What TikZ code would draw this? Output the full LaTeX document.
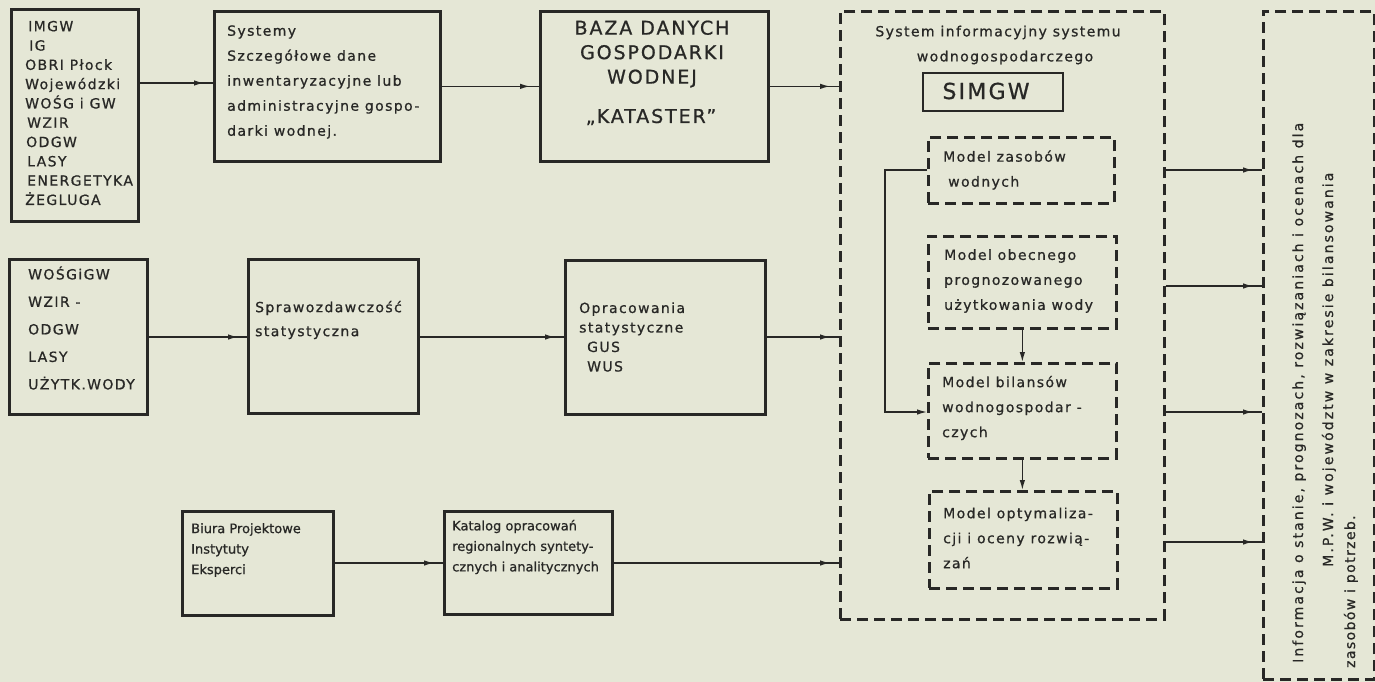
\documentclass[tikz,border=0pt]{standalone}
\usepackage{fontspec}
\newfontfamily\lsf[LetterSpace=10,FakeBold=0.8]{DejaVu Sans}
\newfontfamily\lsfw[LetterSpace=15,FakeBold=0.8]{DejaVu Sans}
\newfontfamily\psf[FakeBold=0.8]{DejaVu Sans}
\usetikzlibrary{arrows.meta,decorations.markings}
\definecolor{bg}{RGB}{229,231,214}
\definecolor{ink}{RGB}{40,40,38}
\begin{document}
\begin{tikzpicture}[x=1pt,y=-1pt,
  box/.style={draw=ink, line width=2.7pt, anchor=north west, inner sep=0pt},
  dbox/.style={draw=ink, line width=2.7pt, dash pattern=on 11pt off 6pt, anchor=north west, inner sep=0pt},
  t/.style={font=\lsf\fontsize{14}{25}\selectfont, align=left, inner sep=0pt, anchor=west, text=ink},
  tb/.style={font=\psf\fontsize{13}{20.5}\selectfont, align=left, inner sep=0pt, anchor=west, text=ink},
  conn/.style={draw=ink, line width=1.3pt, postaction={decorate},
    decoration={markings, mark=at position -9pt with {\arrow{Latex[length=10pt,width=5.5pt]}}}},
  tip/.style={draw=ink, line width=1.3pt, -{Latex[length=10pt,width=5.5pt]}}
]
\fill[bg] (0,0) rectangle (1375,682);
\useasboundingbox (0,0) rectangle (1375,682);

% boxes
\node[box, minimum width=127pt, minimum height=212pt] (A) at (10,8) {};
\node[box, minimum width=226pt, minimum height=150pt] (B) at (213,10) {};
\node[box, minimum width=228pt, minimum height=150pt] (C) at (539,10) {};
\node[dbox, minimum width=324pt, minimum height=608pt] (big) at (839,10) {};
\node[box, line width=2.3pt, minimum width=140pt, minimum height=38pt] (S) at (922,72) {};
\node[dbox, minimum width=186pt, minimum height=66pt] (M1) at (927,136) {};
\node[dbox, minimum width=188pt, minimum height=92pt] (M2) at (927,235) {};
\node[dbox, minimum width=188pt, minimum height=95pt] (M3) at (927,362) {};
\node[dbox, minimum width=188pt, minimum height=97pt] (M4) at (928,490) {};
\node[dbox, minimum width=111pt, minimum height=668pt] (R) at (1262,10) {};
\node[box, minimum width=138pt, minimum height=155pt] (D) at (8,258) {};
\node[box, minimum width=170pt, minimum height=154pt] (E) at (247,258) {};
\node[box, minimum width=200pt, minimum height=154pt] (F) at (564,259) {};
\node[box, minimum width=151pt, minimum height=104pt] (G) at (181,510) {};
\node[box, minimum width=168pt, minimum height=103pt] (H) at (443,510) {};

% texts
\node[t, font=\lsf\fontsize{14}{19.3}\selectfont] (At) at (25,113)
  {\hspace{3pt}IMGW\\\hspace{4pt}IG\\OBRI Płock\\Wojewódzki\\WOŚG i GW\\\hspace{2pt}WZIR\\\hspace{1pt}ODGW\\\hspace{2pt}LASY\\\hspace{2pt}ENERGETYKA\\ŻEGLUGA};
\node[t] (Bt) at (227,82)
  {Systemy\\Szczegółowe dane\\inwentaryzacyjne lub\\administracyjne gospo-\\darki wodnej.};
\node[t, font=\lsf\fontsize{19}{24.5}\selectfont, align=center, anchor=center] (Ct1) at (652,54)
  {BAZA DANYCH\\GOSPODARKI\\WODNEJ};
\node[t, font=\lsf\fontsize{19}{24.5}\selectfont, anchor=center] (Ct2) at (651,117) {„KATASTER”};
\node[t, align=center, anchor=center] (bigt) at (998,45)
  {System informacyjny systemu\\\hspace{14pt}wodnogospodarczego};
\node[t, font=\lsf\fontsize{22}{26}\selectfont, anchor=center] (St) at (986,91) {SIMGW};
\node[t] (M1t) at (943,170) {Model zasobów\\\hspace{5pt}wodnych};
\node[t] (M2t) at (944,281) {Model obecnego\\prognozowanego\\użytkowania wody};
\node[t] (M3t) at (942,408) {Model bilansów\\wodnogospodar -\\czych};
\node[t] (M4t) at (943,538) {Model optymaliza-\\cji i oceny rozwią-\\zań};
\node[t, font=\lsf\fontsize{14}{27.5}\selectfont] (Dt) at (28,328)
  {WOŚGiGW\\WZIR -\\ODGW\\LASY\\UŻYTK.WODY};
\node[t, font=\lsf\fontsize{14}{24}\selectfont] (Et) at (255,320) {Sprawozdawczość\\statystyczna};
\node[t, font=\lsf\fontsize{14}{19.5}\selectfont] (Ft) at (579,337)
  {Opracowania\\statystyczne\\\hspace{8pt}GUS\\\hspace{8pt}WUS};
\node[tb] (Gt) at (191,550) {Biura Projektowe\\Instytuty\\Eksperci};
\node[tb] (Ht) at (452,547) {Katalog opracowań\\regionalnych syntety-\\cznych i analitycznych};

\node[t, font=\lsfw\fontsize{14}{25}\selectfont, rotate=90, anchor=base west] (R1) at (1303,663)
  {Informacja o stanie, prognozach, rozwiązaniach i ocenach dla};
\node[t, font=\lsfw\fontsize{14}{25}\selectfont, rotate=90, anchor=base west] (R2) at (1333,567)
  {M.P.W. i województw w zakresie bilansowania};
\node[t, font=\lsf\fontsize{14}{25}\selectfont, rotate=90, anchor=base west] (R3) at (1355,668)
  {zasobów i potrzeb.};

% connectors
\draw[conn] (A.east |- 0,83) -- (B.west |- 0,83);
\draw[conn] (B.east) -- (C.west);
\draw[conn] (C.east) -- (big.west |- C.east);
\draw[conn] (D.east |- 0,337) -- (E.west |- 0,337);
\draw[conn] (E.east |- 0,337) -- (F.west |- 0,337);
\draw[conn] (F.east |- 0,337) -- (big.west |- 0,337);
\draw[conn] (G.east |- 0,563) -- (H.west |- 0,563);
\draw[conn] (H.east |- 0,563) -- (big.west |- 0,563);

\draw[tip] (M1.west |- 0,170) -- (885,170) |- (M3.west |- 0,412);
\draw[tip] (M2.south) -- (M3.north);
\draw[tip] (M3.south) -- (M4.north -| M3.south);

\draw[conn] (big.east |- 0,170) -- (R.west |- 0,170);
\draw[conn] (big.east |- 0,286) -- (R.west |- 0,286);
\draw[conn] (big.east |- 0,412) -- (R.west |- 0,412);
\draw[conn] (big.east |- 0,542) -- (R.west |- 0,542);
\end{tikzpicture}
\end{document}
